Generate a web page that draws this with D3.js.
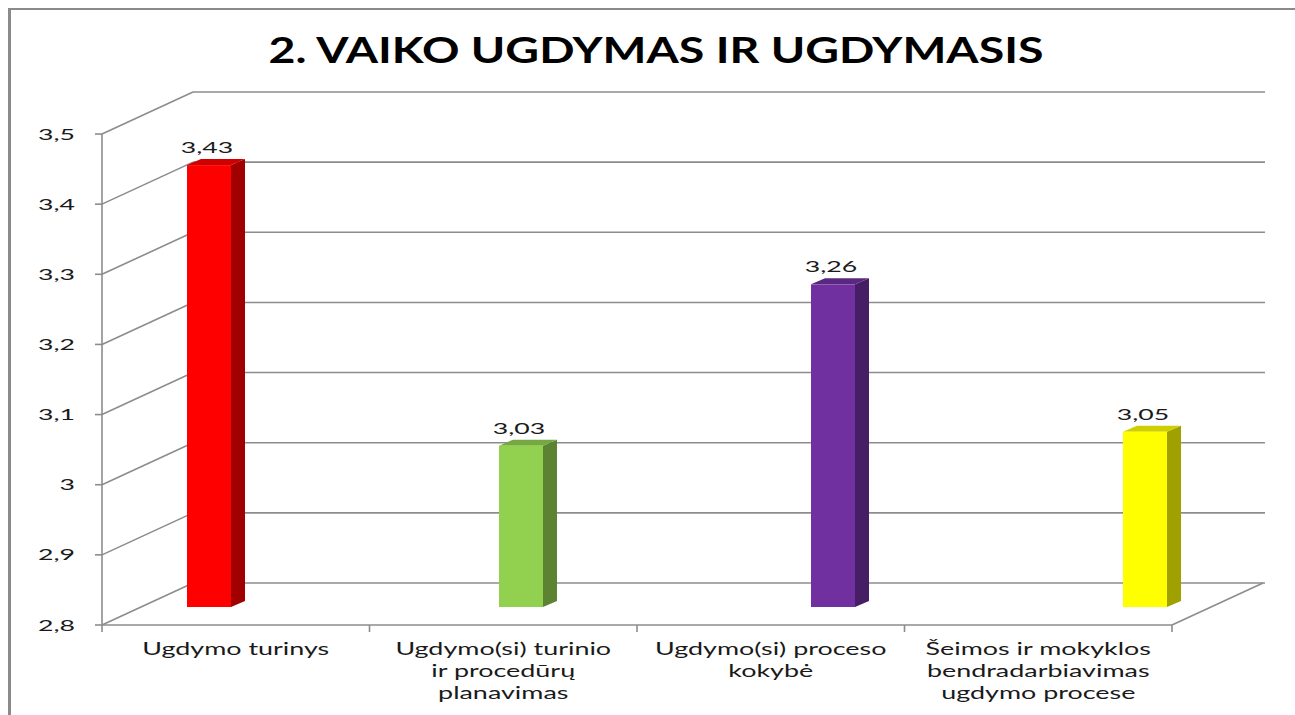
<!DOCTYPE html>
<html><head><meta charset="utf-8">
<script src="https://cdn.jsdelivr.net/npm/d3@7"></script>
<style>body{margin:0;background:#fff;} svg{display:block}</style>
</head><body><svg id="c" width="1295" height="715"></svg>
<script>
// ---------- data ----------
const chartTitle = "2. VAIKO UGDYMAS IR UGDYMASIS";
const categories = ["Ugdymo turinys", "Ugdymo(si) turinio ir procedūrų planavimas", "Ugdymo(si) proceso kokybė", "Šeimos ir mokyklos bendradarbiavimas ugdymo procese"];
const categoryLines = [["Ugdymo turinys"], ["Ugdymo(si) turinio", "ir procedūrų", "planavimas"], ["Ugdymo(si) proceso", "kokybė"], ["Šeimos ir mokyklos", "bendradarbiavimas", "ugdymo procese"]];
const values = [3.43, 3.03, 3.26, 3.05];
const valueLabels = ["3,43", "3,03", "3,26", "3,05"];
const yTicks = [2.8, 2.9, 3.0, 3.1, 3.2, 3.3, 3.4, 3.5];
const yTickLabels = ["2,8", "2,9", "3", "3,1", "3,2", "3,3", "3,4", "3,5"];
const barColors = ["#FF0000", "#92D050", "#7030A0", "#FFFF00"];

// ---------- geometry ----------
const svg = d3.select("#c");
const frontLeft = 102, frontRight = 1172, floorY = 625, topY = 134;
const depth = {dx: 91, dy: -42};          // wall depth
const barDepth = {dx: 14, dy: -6};        // bar depth
const barOffsetY = -18;                   // bars sit inside the floor depth
const barW = 44;
const gridColor = "#8c8c8c";
const FONT = "Lato, 'DejaVu Sans', sans-serif";

const y = d3.scaleLinear().domain([2.8, 3.5]).range([floorY, topY]);
const x = d3.scaleBand().domain(categories).range([frontLeft, frontRight]);
const xBar = d3.scaleBand().domain(categories).range([53, 1301]); // perspective bar centres

function measure(str, size, weight) {
  const t = svg.append("text").style("font-family", FONT).style("font-size", size + "px")
    .style("font-weight", weight || 400).text(str);
  const w = t.node().getComputedTextLength();
  t.remove();
  return w;
}
function sText(g, str, px, py, size, sx, anchor, weight, fill) {
  return g.append("text")
    .attr("transform", `translate(${px},${py}) scale(${sx},1)`)
    .attr("text-anchor", anchor)
    .style("font-family", FONT).style("font-size", size + "px")
    .style("font-weight", weight || 400).attr("fill", fill || "#000")
    .text(str);
}

// outer frame
svg.append("line").attr("x1", 9.5).attr("x2", 9.5).attr("y1", 8).attr("y2", 715).attr("stroke", "#8a8a8a").attr("stroke-width", 3);
svg.append("line").attr("x1", 8).attr("x2", 1295).attr("y1", 9).attr("y2", 9).attr("stroke", "#8a8a8a").attr("stroke-width", 2);

// walls / gridlines
const grid = svg.append("g").attr("stroke", gridColor).attr("stroke-width", 1.6).attr("fill", "none");
yTicks.forEach(t => {
  const yy = y(t);
  grid.append("line").attr("x1", frontLeft).attr("y1", yy).attr("x2", frontLeft + depth.dx).attr("y2", yy + depth.dy);
  grid.append("line").attr("x1", frontLeft + depth.dx).attr("y1", yy + depth.dy).attr("x2", frontRight + depth.dx + 2).attr("y2", yy + depth.dy);
  grid.append("line").attr("x1", frontLeft - 7).attr("y1", yy).attr("x2", frontLeft).attr("y2", yy);
});
// y axis line
grid.append("line").attr("x1", frontLeft).attr("y1", y(3.5)).attr("x2", frontLeft).attr("y2", y(2.8));
// floor front edge + right edge
grid.append("line").attr("x1", frontLeft).attr("y1", floorY).attr("x2", frontRight).attr("y2", floorY);
grid.append("line").attr("x1", frontRight).attr("y1", floorY).attr("x2", frontRight + depth.dx).attr("y2", floorY + depth.dy);
// category ticks
const bounds = categories.map(c => x(c)).concat([frontRight]);
bounds.forEach(bx => grid.append("line").attr("x1", bx).attr("x2", bx).attr("y1", floorY).attr("y2", floorY + 7));

// bars
const bars = svg.append("g");
categories.forEach((c, i) => {
  const cx = xBar(c) + xBar.bandwidth() / 2;
  const x0 = cx - barW / 2, x1 = cx + barW / 2;
  const yTop = y(values[i]) + barOffsetY;
  const yBot = y(2.8) + barOffsetY;
  const col = d3.color(barColors[i]);
  bars.append("polygon")
    .attr("points", [[x1, yTop], [x1 + barDepth.dx, yTop + barDepth.dy], [x1 + barDepth.dx, yBot + barDepth.dy], [x1, yBot]].join(" "))
    .attr("fill", col.darker(1.3));
  bars.append("polygon")
    .attr("points", [[x0, yTop], [x1, yTop], [x1 + barDepth.dx, yTop + barDepth.dy], [x0 + barDepth.dx, yTop + barDepth.dy]].join(" "))
    .attr("fill", col.darker(0.6));
  bars.append("rect").attr("x", x0).attr("y", yTop).attr("width", barW).attr("height", yBot - yTop).attr("fill", col);
});

// text
const txt = svg.append("g");
const numSize = 15.5;
const numSx = 37 / measure("3,5", numSize);
yTicks.forEach((t, i) => {
  sText(txt, yTickLabels[i], 75, y(t) + 5.5, numSize, numSx, "end", 400, "#1a1a1a");
});
categories.forEach((c, i) => {
  const cx = xBar(c) + xBar.bandwidth() / 2 - 2;
  const yTop = y(values[i]) + barOffsetY;
  sText(txt, valueLabels[i], cx, yTop - 12, numSize, numSx, "middle", 400, "#1a1a1a");
});
const catSize = 17;
const catSx = 187 / measure("Ugdymo turinys", catSize);
categories.forEach((c, i) => {
  const cx = x(c) + x.bandwidth() / 2;
  categoryLines[i].forEach((ln, j) => {
    sText(txt, ln, cx, 655 + j * 22, catSize, catSx, "middle", 400, "#1a1a1a");
  });
});
const titleSize = 36;
const titleSx = 775 / measure(chartTitle, titleSize, 700);
sText(txt, chartTitle, 656, 63, titleSize, titleSx, "middle", 700, "#000");
</script></body></html>
